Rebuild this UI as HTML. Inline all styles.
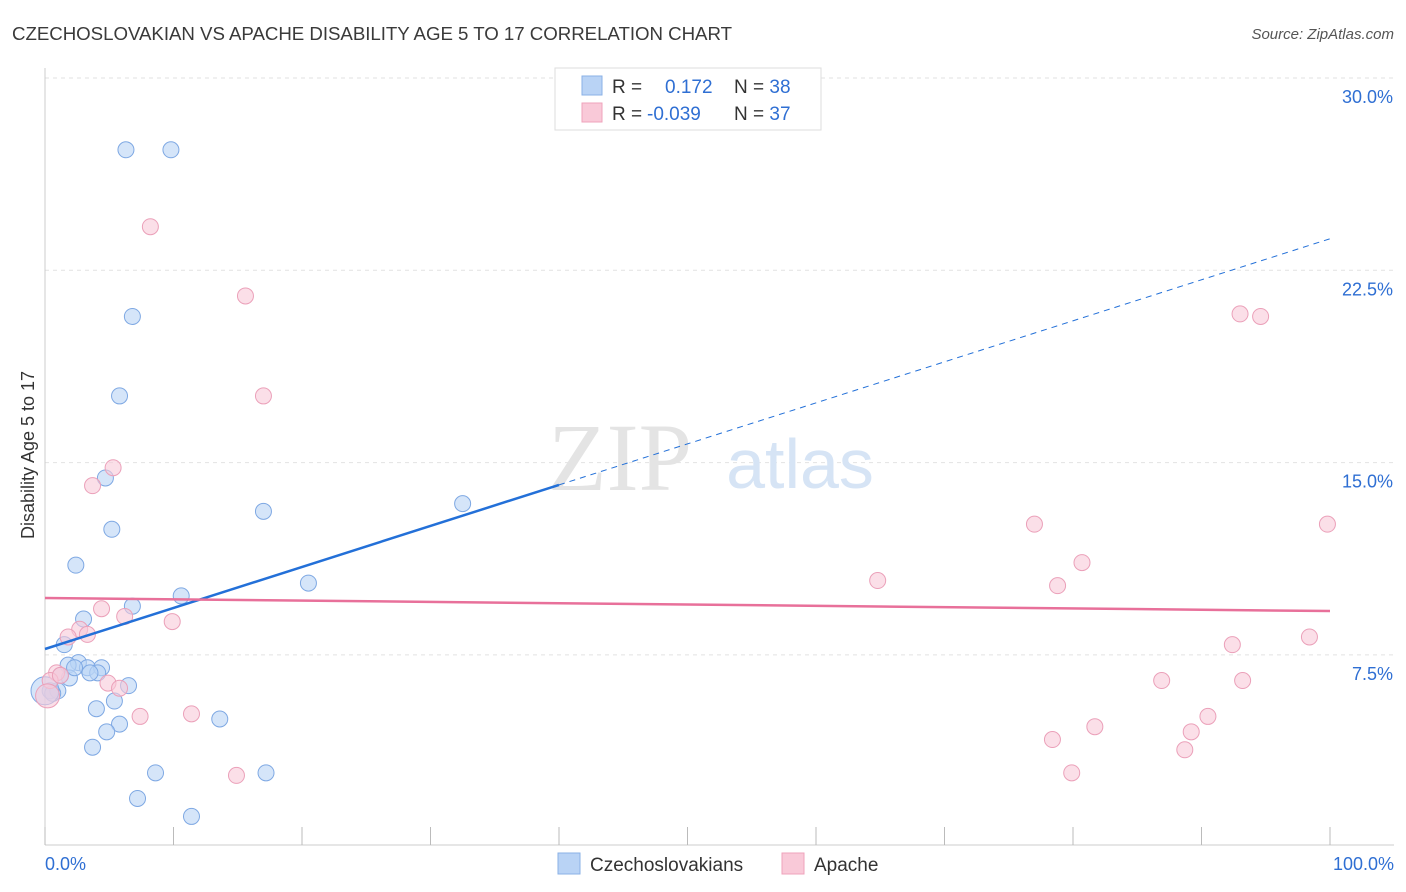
<!DOCTYPE html>
<html><head><meta charset="utf-8">
<style>
body{margin:0;background:#fff;font-family:"Liberation Sans",sans-serif;}
svg{display:block}
</style></head>
<body>
<svg id="chart" width="1406" height="892">
<text x="12" y="40" font-size="18.7" fill="#3a3a3a" textLength="720">CZECHOSLOVAKIAN VS APACHE DISABILITY AGE 5 TO 17 CORRELATION CHART</text>
<text x="1394" y="39" font-size="15" fill="#555" font-style="italic" text-anchor="end">Source: ZipAtlas.com</text>
<g id="grid"></g>
<text x="620" y="490" font-size="96" font-family="Liberation Serif,serif" fill="#e4e4e4" text-anchor="middle">ZIP</text>
<text x="800" y="488" font-size="70" fill="#d6e4f5" text-anchor="middle">atlas</text>
<text transform="translate(34,455) rotate(-90)" font-size="18" fill="#333" text-anchor="middle">Disability Age 5 to 17</text>
<g id="marks"></g>
<g>
<rect x="555" y="68" width="266" height="62" fill="#fff" stroke="#ddd"/>
<rect x="582" y="76" width="20" height="19" fill="#b9d3f5" stroke="#8ab0e6"/>
<rect x="582" y="103" width="20" height="19" fill="#f9c9d8" stroke="#efa3bb"/>
<text x="612" y="93" font-size="19" fill="#333">R = <tspan fill="#2f6fd3" x="665">0.172</tspan><tspan fill="#333" x="734">N = </tspan><tspan fill="#2f6fd3">38</tspan></text>
<text x="612" y="120" font-size="19" fill="#333">R = <tspan fill="#2f6fd3" x="647">-0.039</tspan><tspan fill="#333" x="734">N = </tspan><tspan fill="#2f6fd3">37</tspan></text>
</g>
<g>
<rect x="558" y="853" width="22" height="21" fill="#b9d3f5" stroke="#8ab0e6"/>
<text x="590" y="871" font-size="19" fill="#333">Czechoslovakians</text>
<rect x="782" y="853" width="22" height="21" fill="#f9c9d8" stroke="#efa3bb"/>
<text x="814" y="871" font-size="19" fill="#333">Apache</text>
</g>
<text x="45" y="870" font-size="18" fill="#2f6fd3">0.0%</text>
<text x="1394" y="870" font-size="18" fill="#2f6fd3" text-anchor="end">100.0%</text>
</svg>
<script>
const yTicks=[30,22.5,15,7.5];
const yTickLabels=["30.0%","22.5%","15.0%","7.5%"];
const xTicks=[0,10,20,30,40,50,60,70,80,90,100];
const blueX=[6.3,9.8,6.8,5.8,4.7,5.2,17.0,32.5,2.4,20.5,10.6,6.8,3.0,1.5,2.6,1.8,3.3,4.4,4.1,3.5,1.9,1.2,6.5,0.4,1.0,0.6,5.4,4.0,5.8,4.8,13.6,3.7,8.6,17.2,7.2,11.4,0,2.3];
const blueY=[27.2,27.2,20.7,17.6,14.4,12.4,13.1,13.4,11.0,10.3,9.8,9.4,8.9,7.9,7.2,7.1,7.0,7.0,6.8,6.8,6.6,6.7,6.3,6.1,6.1,6.0,5.7,5.4,4.8,4.5,5.0,3.9,2.9,2.9,1.9,1.2,6.1,7.0];
const pinkX=[8.2,15.6,17.0,5.3,3.7,4.4,6.2,9.9,2.7,1.8,3.3,0.9,0.4,1.2,4.9,5.8,7.4,11.4,14.9,64.8,77.0,78.8,80.7,93.0,94.6,99.8,92.4,98.4,86.9,93.2,78.4,81.7,79.9,90.5,89.2,88.7,0.2];
const pinkY=[24.2,21.5,17.6,14.8,14.1,9.3,9.0,8.8,8.5,8.2,8.3,6.8,6.5,6.7,6.4,6.2,5.1,5.2,2.8,10.4,12.6,10.2,11.1,20.8,20.7,12.6,7.9,8.2,6.5,6.5,4.2,4.7,2.9,5.1,4.5,3.8,5.9];
const blueTrend=[7.73,0.16];
const pinkTrend=[9.72,-0.0051];
const NS="http://www.w3.org/2000/svg";
const X=v=>45+v*12.85, Y=v=>78+(30-v)*25.64;
function mk(t,a,p){const e=document.createElementNS(NS,t);for(const k in a)e.setAttribute(k,a[k]);p.appendChild(e);return e;}
const grid=document.getElementById('grid'),marks=document.getElementById('marks'),svg=document.getElementById('chart');
yTicks.forEach((t,i)=>{
 const l=mk('line',{x1:45,x2:1394,y1:Y(t),y2:Y(t),stroke:'#e2e2e2','stroke-dasharray':'4,4'},grid);
 
 
 const tx=mk('text',{x:1393,y:Y(t)+25,'font-size':18,fill:'#2f6fd3','text-anchor':'end'},svg);
 tx.textContent=yTickLabels[i];
 
 
});
const ax=mk('line',{x1:45,x2:1394,y1:845,y2:845,stroke:'#ccc'},grid);


const ay=mk('line',{x1:45,x2:45,y1:68,y2:845,stroke:'#ccc'},grid);


xTicks.forEach(t=>{
 const l=mk('line',{x1:X(t),x2:X(t),y1:827,y2:845,stroke:'#bbb'},grid);
 
 
});
blueX.forEach((v,i)=>{
 const c=mk('circle',{cx:X(v),cy:Y(blueY[i]),r:i===36?14:8,fill:'#b9d3f5','fill-opacity':0.6,stroke:'#7ea8e3','stroke-width':1},marks);
 
 
});
pinkX.forEach((v,i)=>{
 const c=mk('circle',{cx:X(v),cy:Y(pinkY[i]),r:i===36?12:8,fill:'#f9c9d8','fill-opacity':0.6,stroke:'#eba0b9','stroke-width':1},marks);
 
 
});
const bt=x=>blueTrend[0]+blueTrend[1]*x, pt=x=>pinkTrend[0]+pinkTrend[1]*x;
const l1=mk('line',{x1:X(0),y1:Y(bt(0)),x2:X(40),y2:Y(bt(40)),stroke:'#2370d8','stroke-width':2.5},marks);


const l2=mk('line',{x1:X(40),y1:Y(bt(40)),x2:X(100),y2:Y(bt(100)),stroke:'#2370d8','stroke-width':1,'stroke-dasharray':'6,5'},marks);


const l3=mk('line',{x1:X(0),y1:Y(pt(0)),x2:X(100),y2:Y(pt(100)),stroke:'#e8709a','stroke-width':2.5},marks);


</script>
</body></html>
